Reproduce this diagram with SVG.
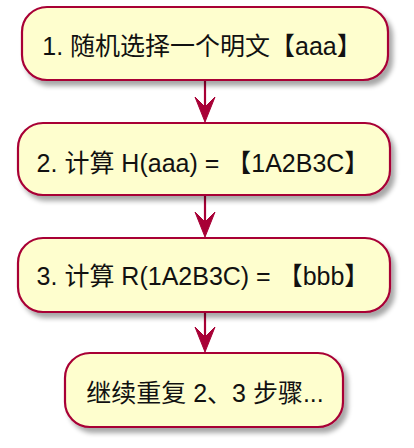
<svg xmlns="http://www.w3.org/2000/svg" width="414" height="448" viewBox="0 0 414 448">
<defs>
<filter id="sh" x="-10%" y="-20%" width="130%" height="160%">
<feGaussianBlur in="SourceAlpha" stdDeviation="2.5"/>
<feOffset dx="4" dy="5" result="b"/>
<feComponentTransfer><feFuncA type="linear" slope="0.35"/></feComponentTransfer>
<feMerge><feMergeNode/><feMergeNode in="SourceGraphic"/></feMerge>
</filter>
<style>
.box{fill:#FEFECE;stroke:#A80036;stroke-width:2.2;filter:url(#sh)}
.t{font-family:"Liberation Sans","Noto Sans CJK SC",sans-serif;font-size:25px;fill:#111;text-anchor:middle}
.ln{stroke:#A80036;stroke-width:2.2;fill:none}
.ah{fill:#A80036;stroke:#A80036;stroke-width:1}
</style>
</defs>
<rect width="414" height="448" fill="#fff"/>
<g id="connectors">
<line class="ln" x1="205" y1="80" x2="205" y2="118"/>
<polygon class="ah" points="195,97 205,122 215,97 205,107"/>
<line class="ln" x1="205" y1="195" x2="205" y2="233"/>
<polygon class="ah" points="195,212 205,237 215,212 205,222"/>
<line class="ln" x1="205" y1="312" x2="205" y2="348"/>
<polygon class="ah" points="195,327 205,352 215,327 205,337"/>
</g>
<g id="n1">
<rect class="box" x="22" y="7" width="366" height="73" rx="25" ry="25"/>
<text class="t" x="202" y="55">1. 随机选择一个明文【aaa】</text>
</g>
<g id="n2">
<rect class="box" x="18" y="123" width="372" height="72" rx="25" ry="25"/>
<text class="t" x="203" y="172">2. 计算 H(aaa) = 【1A2B3C】</text>
</g>
<g id="n3">
<rect class="box" x="18" y="238" width="372" height="74" rx="25" ry="25"/>
<text class="t" x="203" y="285">3. 计算 R(1A2B3C) = 【bbb】</text>
</g>
<g id="n4">
<rect class="box" x="65" y="353" width="278" height="74" rx="25" ry="25"/>
<text class="t" x="205" y="402">继续重复 2、3 步骤...</text>
</g>
</svg>
